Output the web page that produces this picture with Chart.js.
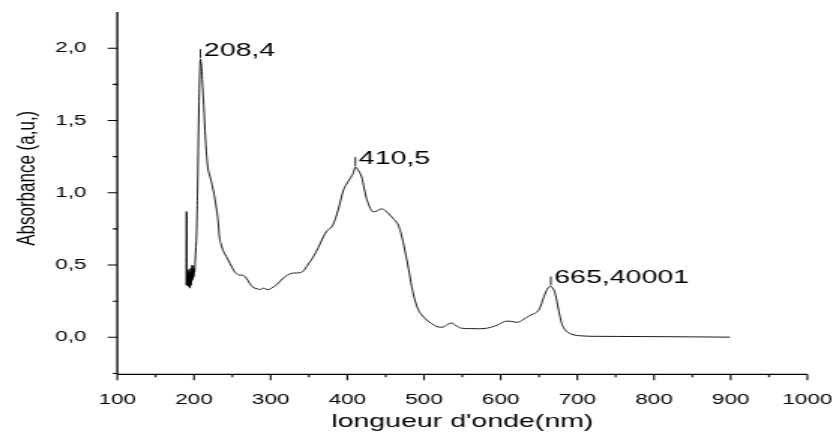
<!DOCTYPE html>
<html>
<head>
<meta charset="utf-8">
<script src="https://cdn.jsdelivr.net/npm/chart.js@4"></script>
<style>
  html, body { margin: 0; padding: 0; background: #fff; overflow: hidden; }
  #wrap { position: absolute; left: 0; top: 0; width: 557px; height: 437px;
          transform: scaleX(1.5009); transform-origin: 0 0; }
  canvas { display: block; }
</style>
</head>
<body>
<div id="wrap"><canvas id="spectrum" width="557" height="437" style="width:557px;height:437px"></canvas></div>
<script>
// UV-Vis absorption spectrum
const wavelengthNm = [
  189.8, 190.2, 190.5, 190.8, 191.2, 191.6, 192.0, 192.4, 192.8, 193.2,
  193.6, 194.0, 194.4, 194.8, 195.2, 195.6, 196.0, 196.4, 196.8, 197.2,
  197.6, 198.0, 198.4, 198.8, 199.2, 199.6, 200.0, 200.5, 201.0, 201.5,
  202.5, 203.5, 204.5, 205.5, 206.5, 207.5, 208.4, 209.2, 210.0, 211.0,
  212.2, 214.4, 216.6, 218.5, 220.0, 222.5, 225.0, 227.5, 229.6, 231.5,
  233.0, 235.5, 238.0, 242.0, 247.0, 250.0, 253.5, 257.0, 260.0, 263.0,
  266.5, 270.0, 273.0, 276.0, 279.6, 283.0, 286.0, 288.0, 290.5, 293.0,
  297.0, 301.0, 305.7, 311.0, 316.5, 322.0, 327.5, 333.0, 338.0, 343.0,
  347.0, 351.0, 355.6, 362.0, 368.7, 374.0, 379.6, 383.0, 386.0, 390.0,
  394.8, 399.0, 403.5, 408.0, 410.5, 412.5, 415.0, 418.8, 422.0, 425.0,
  427.4, 430.5, 434.0, 438.0, 442.0, 445.0, 447.0, 451.0, 455.7, 461.0,
  466.5, 470.0, 475.0, 480.0, 484.0, 488.0, 492.6, 497.0, 503.5, 510.0,
  516.6, 523.0, 527.0, 531.0, 536.0, 541.0, 545.0, 549.0, 560.0, 573.0,
  582.0, 590.0, 598.0, 603.0, 608.0, 614.0, 619.0, 623.0, 628.0, 633.0,
  638.0, 643.0, 647.0, 651.0, 655.6, 660.0, 663.5, 665.40001, 668.0, 671.0,
  674.0, 677.4, 680.0, 684.0, 689.0, 695.0, 705.0, 716.5, 750.0, 790.5,
  850.0, 899.0
];
const absorbance = [
  0.36, 0.87, 0.86, 0.36, 0.42, 0.36, 0.46, 0.38, 0.44, 0.35,
  0.47, 0.37, 0.43, 0.34, 0.45, 0.38, 0.48, 0.36, 0.44, 0.39,
  0.50, 0.40, 0.46, 0.41, 0.49, 0.42, 0.47, 0.45, 0.46, 0.52,
  0.62, 0.74, 0.98, 1.30, 1.60, 1.82, 1.925, 1.90, 1.86, 1.76,
  1.66, 1.43, 1.25, 1.16, 1.13, 1.08, 1.02, 0.95, 0.88, 0.80,
  0.70, 0.64, 0.60, 0.56, 0.51, 0.48, 0.45, 0.435, 0.43, 0.43,
  0.42, 0.395, 0.37, 0.35, 0.34, 0.335, 0.33, 0.335, 0.34, 0.335,
  0.33, 0.34, 0.355, 0.38, 0.41, 0.43, 0.443, 0.445, 0.447, 0.46,
  0.49, 0.52, 0.557, 0.62, 0.695, 0.74, 0.764, 0.80, 0.845, 0.92,
  1.017, 1.06, 1.098, 1.14, 1.178, 1.17, 1.15, 1.109, 1.03, 0.96,
  0.925, 0.885, 0.868, 0.872, 0.885, 0.888, 0.886, 0.87, 0.845, 0.815,
  0.776, 0.72, 0.603, 0.47, 0.35, 0.26, 0.19, 0.155, 0.12, 0.095,
  0.074, 0.07, 0.075, 0.09, 0.098, 0.085, 0.07, 0.063, 0.06, 0.059,
  0.063, 0.074, 0.09, 0.105, 0.112, 0.11, 0.105, 0.105, 0.118, 0.135,
  0.15, 0.163, 0.174, 0.20, 0.27, 0.325, 0.35, 0.352, 0.34, 0.305,
  0.23, 0.143, 0.09, 0.052, 0.03, 0.017, 0.01, 0.007, 0.006, 0.005,
  0.003, 0.001
];

// Labelled absorption maxima (wavelength in nm)
const peakNm = [208.4, 410.5, 665.40001];

// Axis ticks
const xMajorTicks = [100, 200, 300, 400, 500, 600, 700, 800, 900, 1000];
const xMinorTicks = [150, 250, 350, 450, 550, 650, 750, 850, 950];
const yMajorTicks = [0, 0.5, 1.0, 1.5, 2.0];
const yMinorTicks = [-0.25, 0.25, 0.75, 1.25, 1.75];

const xTitle = "longueur d'onde(nm)";
const yTitle = 'Absorbance (a,u,)';

const FONT = "'Liberation Sans', Arial, Helvetica, sans-serif";

const points = wavelengthNm.map((w, i) => ({ x: w, y: absorbance[i] }));
const peaks = peakNm.map(w => ({ x: w, y: absorbance[wavelengthNm.indexOf(w)] }));

// Axis lines, tick marks, axis titles and peak labels
const decorations = {
  id: 'decorations',
  afterDraw(chart) {
    const { ctx, chartArea: a, scales: { x, y } } = chart;
    ctx.save();
    ctx.strokeStyle = '#000';
    ctx.fillStyle = '#000';

    // axis lines
    ctx.lineWidth = 1.3;
    ctx.beginPath();
    ctx.moveTo(a.left, a.top);
    ctx.lineTo(a.left, a.bottom);
    ctx.moveTo(a.left, a.bottom);
    ctx.lineTo(a.right, a.bottom);
    ctx.stroke();

    // tick marks (outside)
    ctx.lineWidth = 1.1;
    ctx.beginPath();
    const xTick = (v, len) => {
      const px = x.getPixelForValue(v);
      ctx.moveTo(px, a.bottom);
      ctx.lineTo(px, a.bottom + len);
    };
    const yTick = (v, len) => {
      const py = y.getPixelForValue(v);
      ctx.moveTo(a.left, py);
      ctx.lineTo(a.left - len, py);
    };
    xMajorTicks.forEach(v => xTick(v, 6));
    xMinorTicks.forEach(v => xTick(v, 3));
    yMajorTicks.forEach(v => yTick(v, 6.5));
    yMinorTicks.forEach(v => yTick(v, 3));
    ctx.stroke();

    // axis titles
    ctx.font = '19px ' + FONT;
    ctx.textAlign = 'center';
    ctx.textBaseline = 'middle';
    ctx.fillText(xTitle, (a.left + a.right) / 2, 422);

    ctx.save();
    ctx.translate(18.3, 178.3);
    ctx.rotate(-Math.PI / 2);
    ctx.font = '17px ' + FONT;
    ctx.fillText(yTitle, 0, 0);
    ctx.restore();

    // peak labels with short leader marks
    ctx.font = '19px ' + FONT;
    ctx.textAlign = 'left';
    ctx.textBaseline = 'alphabetic';
    ctx.lineWidth = 0.9;
    peaks.forEach(p => {
      const px = x.getPixelForValue(p.x);
      const py = y.getPixelForValue(p.y);
      ctx.beginPath();
      ctx.moveTo(px, py - 1);
      ctx.lineTo(px, py - 10);
      ctx.stroke();
      ctx.fillText(String(p.x).replace('.', ','), px + 2.3, py - 3.5);
    });
    ctx.restore();
  }
};

new Chart(document.getElementById('spectrum'), {
  type: 'line',
  data: {
    datasets: [{
      data: points,
      borderColor: '#000',
      borderWidth: 0.9,
      pointRadius: 0,
      fill: false,
      cubicInterpolationMode: 'monotone'
    }]
  },
  options: {
    responsive: false,
    animation: false,
    events: [],
    layout: { padding: { top: 12, right: 19.1, left: 0, bottom: 0 } },
    plugins: { legend: { display: false }, tooltip: { enabled: false } },
    scales: {
      x: {
        type: 'linear',
        min: 100,
        max: 1000,
        grid: { display: false },
        border: { display: false },
        afterBuildTicks: s => { s.ticks = xMajorTicks.map(v => ({ value: v })); },
        afterFit: s => {
          s.height = 437 - 374.3;
          s.paddingLeft = 0;
          s.paddingRight = 0;
        },
        ticks: {
          color: '#000',
          padding: 9,
          font: { family: FONT, size: 15 },
          maxRotation: 0,
          autoSkip: false,
          callback: v => String(v)
        }
      },
      y: {
        type: 'linear',
        min: -0.256,
        max: 2.251,
        grid: { display: false },
        border: { display: false },
        afterBuildTicks: s => { s.ticks = yMajorTicks.map(v => ({ value: v })); },
        afterFit: s => {
          s.width = 78.15;
          s.paddingTop = 0;
          s.paddingBottom = 0;
        },
        ticks: {
          color: '#000',
          padding: 12.5,
          font: { family: FONT, size: 15 },
          autoSkip: false,
          callback: v => v.toFixed(1).replace('.', ',')
        }
      }
    }
  },
  plugins: [decorations]
});
</script>
</body>
</html>
